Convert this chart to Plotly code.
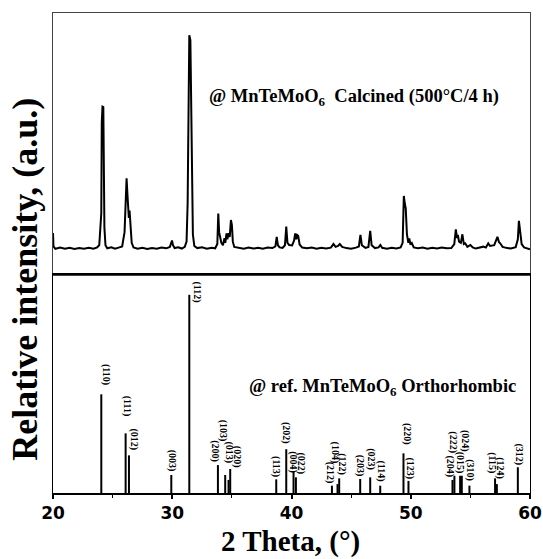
import plotly.graph_objects as go

# ---------------- data ----------------
# measured XRD profile (top panel), read from picture: 2theta (deg) and relative intensity
exp_2theta = [20.00, 20.04, 20.2, 20.6, 21.0, 21.4, 21.8, 22.2, 22.6, 23.0, 23.4, 23.7,
              23.88, 23.98, 24.05, 24.09, 24.15, 24.22, 24.27, 24.31, 24.40, 24.55, 24.9,
              25.2, 25.5, 25.8, 26.0, 26.08, 26.17, 26.24, 26.30, 26.36, 26.42, 26.50,
              26.60, 26.75, 27.1, 27.5, 27.9, 28.3, 28.7, 29.1, 29.5, 29.8, 29.92, 29.98,
              30.06, 30.2, 30.5, 30.8, 31.05, 31.2, 31.29, 31.36, 31.43, 31.52, 31.58,
              31.64, 31.73, 31.85, 32.1, 32.5, 32.9, 33.3, 33.6, 33.78, 33.86, 33.93,
              34.02, 34.12, 34.25, 34.38, 34.45, 34.55, 34.62, 34.72, 34.82, 34.92, 35.0,
              35.08, 35.2, 35.6, 36.0, 36.4, 36.8, 37.2, 37.6, 38.0, 38.4, 38.65, 38.76,
              38.86, 39.0, 39.25, 39.45, 39.56, 39.66, 39.8, 40.05, 40.22, 40.31, 40.40,
              40.48, 40.56, 40.68, 40.9, 41.3, 41.7, 42.1, 42.5, 42.9, 43.3, 43.52, 43.70,
              43.90, 44.05, 44.25, 44.6, 45.0, 45.4, 45.65, 45.78, 45.9, 46.2, 46.45, 46.6,
              46.72, 47.0, 47.3, 47.45, 47.6, 48.0, 48.4, 48.8, 49.15, 49.32, 49.42, 49.50,
              49.58, 49.68, 49.80, 49.88, 49.97, 50.09, 50.25, 50.6, 51.0, 51.4, 51.8, 52.2,
              52.6, 53.0, 53.4, 53.65, 53.78, 53.88, 53.95, 54.05, 54.2, 54.33, 54.45,
              54.56, 54.75, 55.0, 55.2, 55.45, 55.8, 56.09, 56.3, 56.5, 56.65, 56.8, 57.0,
              57.27, 57.4, 57.5, 57.7, 58.0, 58.4, 58.8, 58.98, 59.07, 59.18, 59.3, 59.5,
              59.8, 60.0]
exp_intensity = [17.6, 12.0, 11.0, 11.5, 11.0, 11.4, 10.9, 11.3, 11.0, 11.4, 11.0, 11.6,
                 12.6, 18.5, 26.0, 64.0, 70.7, 70.5, 47.0, 20.0, 12.5, 11.2, 11.6,
                 11.0, 11.5, 12.0, 18.0, 31.0, 40.6, 34.0, 27.0, 24.0, 27.0, 20.0,
                 13.5, 11.6, 11.0, 11.4, 10.9, 11.3, 11.0, 11.5, 11.2, 11.8, 13.5, 14.5,
                 12.5, 11.3, 11.6, 11.1, 11.8, 14.0, 30.0, 65.0, 100.7, 98.6, 70.5,
                 36.0, 17.0, 12.2, 11.3, 11.6, 11.0, 11.4, 11.2, 13.0, 25.8, 18.0,
                 15.5, 13.5, 12.5, 15.4, 13.5, 17.5, 15.0, 17.6, 16.0, 23.1, 21.0,
                 14.0, 11.8, 11.3, 11.0, 11.5, 11.1, 11.4, 11.0, 11.5, 11.3, 12.0, 16.0,
                 12.5, 11.6, 11.4, 12.5, 20.3, 13.5, 12.6, 12.4, 14.5, 17.5, 15.0,
                 16.8, 16.5, 12.8, 11.5, 11.2, 11.5, 11.0, 11.4, 11.1, 11.5, 13.0, 11.8,
                 12.2, 13.0, 11.8, 11.3, 11.0, 11.5, 12.0, 16.8, 12.5, 11.4, 11.8, 18.5,
                 12.5, 11.3, 11.6, 12.6, 11.4, 11.0, 11.4, 11.1, 11.6, 13.5, 33.2, 30.0,
                 28.0, 17.0, 13.5, 15.4, 12.8, 13.4, 11.6, 11.2, 11.5, 11.0, 11.4, 11.1,
                 11.5, 11.2, 11.3, 13.0, 19.2, 15.5, 16.8, 14.0, 13.5, 17.1, 13.0,
                 13.3, 11.8, 12.6, 11.6, 11.1, 11.6, 11.9, 11.5, 13.3, 12.2, 12.2, 12.5,
                 16.0, 13.8, 13.3, 11.8, 11.4, 11.1, 11.7, 15.0, 22.7, 17.0, 13.0, 11.6,
                 11.2, 10.8]

# reference pattern (bottom panel): hkl, 2theta, relative intensity
ref_hkl = ["(110)", "(111)", "(012)", "(003)", "(112)", "(200)", "(103)", "(013)", "(020)",
           "(113)", "(202)", "(004)", "(022)", "(212)", "(104)", "(122)", "(203)", "(023)",
           "(114)", "(220)", "(123)", "(204)", "(222)", "(015)", "(024)", "(310)", "(115)",
           "(124)", "(312)"]
ref_2theta = [24.05, 26.09, 26.37, 29.92, 31.43, 33.83, 34.44, 34.72, 34.86,
              38.72, 39.56, 40.17, 40.37, 43.39, 43.86, 44.00, 45.76, 46.60,
              47.44, 49.39, 49.81, 53.50, 53.66, 54.14, 54.28, 54.92, 57.07,
              57.22, 58.98]
ref_intensity = [49.8, 30.1, 19.0, 9.1, 100.0, 14.1, 9.1, 6.6, 12.1,
                 6.9, 22.1, 10.7, 7.9, 3.7, 4.5, 7.4, 7.1, 7.9,
                 3.7, 20.0, 6.1, 6.6, 8.7, 8.7, 8.7, 3.7, 7.4,
                 4.5, 13.0]

x_ticks = [20, 30, 40, 50, 60]
top_label = "@ MnTeMoO<sub>6</sub>  Calcined (500°C/4 h)"
bottom_label = "@ ref. MnTeMoO<sub>6</sub> Orthorhombic"
x_title = "2 Theta, (°)"
y_title = "Relative intensity, (a.u.)"

# label placement (styling): pixel offsets of each hkl label centre from its stick top
lab_dx = [4, 1, 5, 1, 8, -3, -2, 1, 7, -1, 0, 0, 5, -2, -3, 2, 0, 0, 1, 3, 2, -2, -1, 0, 3, 1, -3, 3, 1]
lab_up = [20, 27, 16, 14, 3, 14, 44, 28, 12, 13, 16, 10, 14, 13, 32, 14, 13, 18, 15, 19, 12, 13, 33, 13, 35, 15, 16, 16, 13]

SERIF = "Liberation Serif"
SANS = "DejaVu Sans"

# ---------------- figure ----------------
fig = go.Figure()

fig.add_trace(go.Scatter(x=exp_2theta, y=exp_intensity, mode="lines",
                         line=dict(color="black", width=2), xaxis="x", yaxis="y",
                         showlegend=False, hoverinfo="skip"))

sx, sy = [], []
for p, h in zip(ref_2theta, ref_intensity):
    sx += [p, p, None]
    sy += [0, h, None]
fig.add_trace(go.Scatter(x=sx, y=sy, mode="lines", line=dict(color="black", width=2),
                         xaxis="x2", yaxis="y2", showlegend=False, hoverinfo="skip"))

annotations = []
for i, (lab, p, h) in enumerate(zip(ref_hkl, ref_2theta, ref_intensity)):
    annotations.append(dict(x=p, y=h, xref="x2", yref="y2", text=lab, showarrow=False,
                            textangle=90, xanchor="center", yanchor="middle",
                            xshift=lab_dx[i], yshift=lab_up[i],
                            font=dict(family=SERIF, size=10, color="black", weight="bold")))

annotations.append(dict(x=32.9, y=74.7, xref="x", yref="y", text=top_label, showarrow=False,
                        xanchor="left", yanchor="middle",
                        font=dict(family=SERIF, size=18.5, color="black", weight="bold")))
annotations.append(dict(x=36.26, y=53, xref="x2", yref="y2", text=bottom_label, showarrow=False,
                        xanchor="left", yanchor="middle",
                        font=dict(family=SERIF, size=18.5, color="black", weight="bold")))
annotations.append(dict(x=0.497, y=-0.1, xref="paper", yref="paper", text=x_title,
                        showarrow=False, xanchor="center", yanchor="middle",
                        font=dict(family=SERIF, size=29, color="black", weight="bold")))
annotations.append(dict(x=-0.058, y=0.445, xref="paper", yref="paper", text=y_title,
                        showarrow=False, xanchor="center", yanchor="middle", textangle=-90,
                        font=dict(family=SERIF, size=36, color="black", weight="bold")))

split = 218 / 480

fig.update_layout(
    width=543, height=559,
    margin=dict(l=53, r=13, t=13, b=66, autoexpand=False),
    paper_bgcolor="white", plot_bgcolor="white",
    xaxis=dict(domain=[0, 1], anchor="y", range=[20, 60], showticklabels=False,
               ticks="", showgrid=False, zeroline=False, showline=True, mirror=True,
               linecolor="#444", linewidth=1, automargin=False),
    yaxis=dict(domain=[split, 1], anchor="x", range=[0, 110], showticklabels=False,
               ticks="", showgrid=False, zeroline=False, showline=True, mirror=True,
               linecolor="#444", linewidth=1, automargin=False),
    xaxis2=dict(domain=[0, 1], anchor="y2", range=[20, 60], tickvals=x_ticks,
                ticks="outside", ticklen=4, tickwidth=1.5, tickcolor="black",
                minor=dict(dtick=5, ticks="outside", ticklen=3, tickwidth=1, tickcolor="black"),
                showgrid=False, zeroline=False, showline=True, mirror=True,
                linecolor="black", linewidth=1.5, automargin=False,
                tickfont=dict(family=SANS, size=17, color="black", weight="bold")),
    yaxis2=dict(domain=[0, split], anchor="x2", range=[0, 110], showticklabels=False,
                ticks="", showgrid=False, zeroline=False, showline=True, mirror=True,
                linecolor="black", linewidth=1, automargin=False),
    annotations=annotations,
)

fig.write_html("out.html", config={"displayModeBar": False},
               post_script="document.body.style.margin='0px';document.body.style.overflow='hidden';")
